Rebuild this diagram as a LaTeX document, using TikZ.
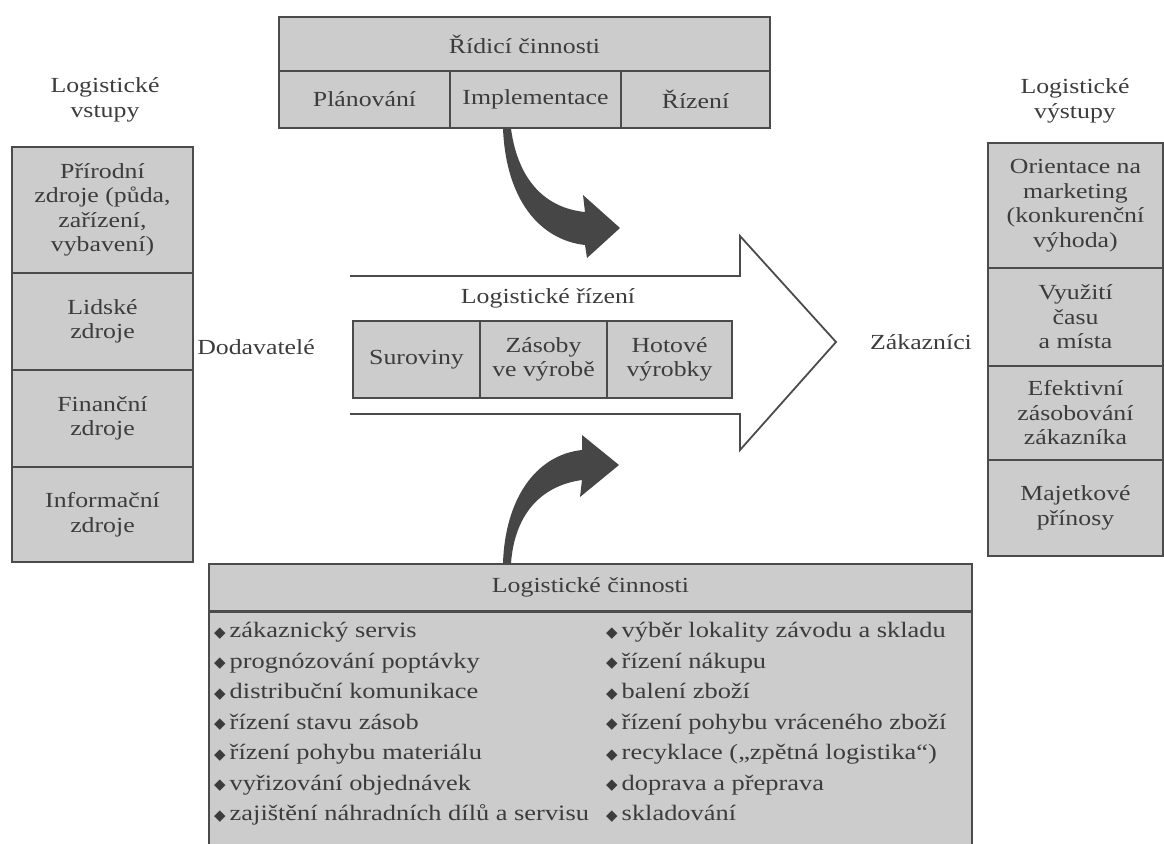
\documentclass[tikz,border=0pt]{standalone}
\usepackage{fontspec}
\setmainfont{Liberation Serif}[FakeStretch=1.2]
\newfontfamily\symfont{DejaVu Sans}
\usetikzlibrary{positioning,calc}
\definecolor{cellfill}{RGB}{204,204,204}
\definecolor{linec}{RGB}{75,75,75}
\definecolor{txtc}{RGB}{60,60,60}
\definecolor{arrowc}{RGB}{70,70,70}
\tikzset{
  cell/.style={draw=linec, line width=1.6pt, fill=cellfill, text=txtc, align=center, inner sep=0pt, font=\fontsize{21.5}{24.5}\selectfont},
  lbl/.style={text=txtc, align=center, inner sep=0pt, font=\fontsize{21.5}{25}\selectfont},
  listtxt/.style={text=txtc, align=left, inner sep=0pt, anchor=north west, font=\fontsize{22}{30.5}\selectfont},
  curvearrow/.style={fill=arrowc, draw=none}
}
\newcommand{\bul}{\raisebox{0.5pt}{\symfont\fontsize{15}{15}\selectfont ◆}\hspace{4pt}}
\begin{document}
\begin{tikzpicture}[x=1pt,y=-1pt]
\useasboundingbox (0,0) rectangle (1164,843);
% left column
\node[lbl] (intitle) at (105,100) {Logistické\\vstupy};
\node[cell, minimum width=181pt, minimum height=126pt] (in1) at (102.5,210) {Přírodní\\zdroje (půda,\\zařízení,\\vybavení)};
\node[cell, minimum width=181pt, minimum height=97pt] (in2) at (102.5,321.5) {Lidské\\zdroje};
\node[cell, minimum width=181pt, minimum height=97pt] (in3) at (102.5,418.5) {Finanční\\zdroje};
\node[cell, minimum width=181pt, minimum height=95pt] (in4) at (102.5,514.5) {Informační\\zdroje};
% right column
\node[lbl] (outtitle) at (1075,101) {Logistické\\výstupy};
\node[cell, minimum width=175pt, minimum height=125pt] (out1) at (1075.5,205.5) {Orientace na\\marketing\\(konkurenční\\výhoda)};
\node[cell, minimum width=175pt, minimum height=98pt] (out2) at (1075.5,317) {Využití\\času\\a místa};
\node[cell, minimum width=175pt, minimum height=94pt] (out3) at (1075.5,413) {Efektivní\\zásobování\\zákazníka};
\node[cell, minimum width=175pt, minimum height=96pt] (out4) at (1075.5,508) {Majetkové\\přínosy};
% top box
\node[cell, minimum width=491pt, minimum height=54pt] (rc) at (524.5,44) {Řídicí činnosti};
\node[cell, minimum width=171pt, minimum height=57pt] (plan) at (364.5,99.5) {Plánování};
\node[cell, minimum width=171pt, minimum height=57pt] (impl) at (535.5,99.5) {Implementace};
\node[cell, minimum width=149pt, minimum height=57pt] (riz) at (695.5,99.5) {Řízení};
% big hollow arrow
\draw[linec, line width=1.8pt, line join=miter] (350,276) -- (740,276) -- (740,236) -- (836,342) -- (740,450) -- (740,414) -- (350,414);
\node[lbl] (lr) at (548,298) {Logistické řízení};
\node[cell, minimum width=127pt, minimum height=77pt] (sur) at (416.5,359.5) {Suroviny};
\node[cell, minimum width=127pt, minimum height=77pt] (zas) at (543.5,359.5) {Zásoby\\ve výrobě};
\node[cell, minimum width=125pt, minimum height=77pt] (hot) at (669.5,359.5) {Hotové\\výrobky};
\node[lbl] (dod) at (256,347) {Dodavatelé};
\node[lbl] (zak) at (921,342) {Zákazníci};
% bottom box
\node[cell, minimum width=763pt, minimum height=47pt] (lc) at (590.5,587.5) {Logistické činnosti};
\node[cell, minimum width=763pt, minimum height=250pt, anchor=north] (lcbody) at (lc.south) {};
\node[listtxt] (list1) at (214,622) {\bul zákaznický servis\\\bul prognózování poptávky\\\bul distribuční komunikace\\\bul řízení stavu zásob\\\bul řízení pohybu materiálu\\\bul vyřizování objednávek\\\bul zajištění náhradních dílů a servisu};
\node[listtxt] (list2) at (606,622) {\bul výběr lokality závodu a skladu\\\bul řízení nákupu\\\bul balení zboží\\\bul řízení pohybu vráceného zboží\\\bul recyklace („zpětná logistika“)\\\bul doprava a přeprava\\\bul skladování};
% curved arrows
\coordinate (ta) at (impl.south -| 507,0);
\fill[curvearrow] ($(ta)+(-4,0)$) .. controls (506,200) and (540,240) .. (585,245)
  -- (587,258) -- (620,228) -- (583,195) -- (585,212)
  .. controls (545,208) and (518,180) .. ($(ta)+(4,0)$) -- cycle;
\coordinate (ba) at (lc.north -| 507,0);
\fill[curvearrow] ($(ba)+(-4,0)$) .. controls (505,500) and (535,455) .. (582,450)
  -- (582,435) -- (619,465) -- (580,497) -- (582,480)
  .. controls (545,485) and (515,510) .. ($(ba)+(4,0)$) -- cycle;
\end{tikzpicture}
\end{document}
